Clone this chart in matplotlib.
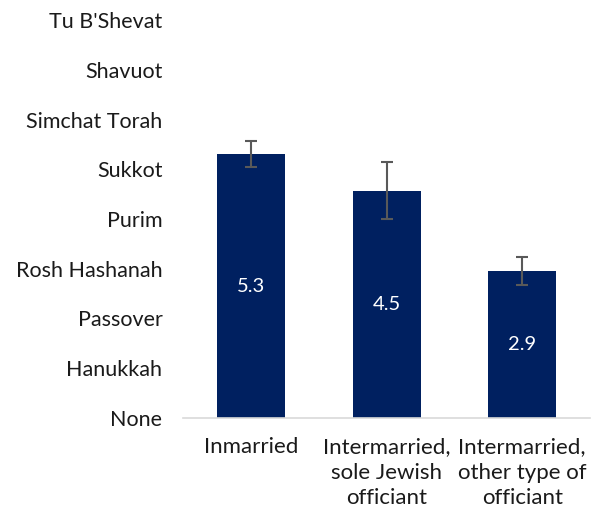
import matplotlib.pyplot as plt
import numpy as np

# Data
categories = ['Inmarried', 'Intermarried,\nsole Jewish\nofficiant',
              'Intermarried,\nother type of\nofficiant']
values = [5.30, 4.57, 2.96]
errors = [0.26, 0.57, 0.28]
value_labels = ['5.3', '4.5', '2.9']
holidays = ['None', 'Hanukkah', 'Passover', 'Rosh Hashanah', 'Purim',
            'Sukkot', 'Simchat Torah', 'Shavuot', "Tu B'Shevat"]

C_BAR = '#002060'
C_ERR = '#595959'
C_TEXT = '#1a1a1a'

plt.rcParams['font.family'] = ['Lato', 'DejaVu Sans']

fig = plt.figure(figsize=(5.93, 5.14), dpi=100)
ax = fig.add_axes([0.309, 0.187, 0.686, 0.774])

x = np.arange(len(categories))
ax.bar(x, values, width=0.5, color=C_BAR, zorder=2)
ax.errorbar(x, values, yerr=errors, fmt='none', ecolor=C_ERR,
            elinewidth=1.5, capsize=4.5, capthick=1.5, zorder=3)

for xi, v, lab in zip(x, values, value_labels):
    ax.text(xi, v / 2, lab, ha='center', va='center', color='white',
            fontsize=14.5)

ax.set_xlim(-0.5, len(categories) - 0.5)
ax.set_ylim(0, 8)
ax.set_yticks(range(len(holidays)))
ax.set_yticklabels(holidays, fontsize=15.5, color=C_TEXT)
ax.set_xticks(x)
ax.set_xticklabels(categories, fontsize=16, color=C_TEXT, linespacing=1.33,
                   va='top')

for side in ['top', 'right', 'left']:
    ax.spines[side].set_visible(False)
ax.spines['bottom'].set_color('#d9d9d9')
ax.spines['bottom'].set_linewidth(1.2)
ax.tick_params(axis='both', length=0)
ax.tick_params(axis='x', pad=14)
ax.tick_params(axis='y', pad=15)

fig.savefig('out.png', dpi=100, facecolor='white')
